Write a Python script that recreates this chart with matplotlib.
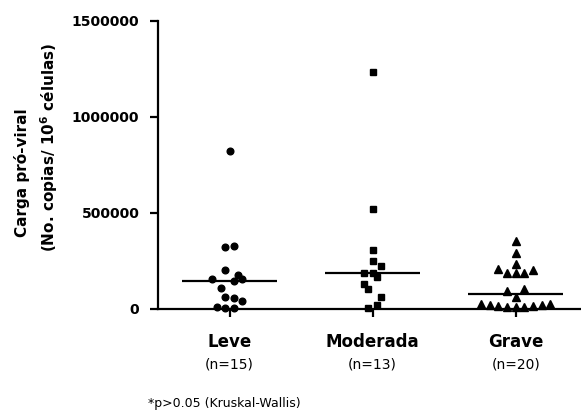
import numpy as np
import matplotlib
matplotlib.use('Agg')
import matplotlib.pyplot as plt
import matplotlib.transforms as mtransforms

plt.rcParams['font.family'] = ['DejaVu Sans']
plt.rcParams['mathtext.fontset'] = 'dejavusans'
plt.rcParams['mathtext.default'] = 'bf'

# data
groups = ['Leve', 'Moderada', 'Grave']
n_labels = ['(n=15)', '(n=13)', '(n=20)']
leve = [824000, 321000, 330000, 203000, 155000, 146000, 179000, 155000,
        108000, 64000, 59000, 42000, 12000, 4000, 4000]
moderada = [1233000, 519000, 307000, 252000, 226000, 186000, 185000, 168000,
            130000, 103000, 61000, 21000, 4000]
grave = [356000, 293000, 236000, 208000, 186000, 186000, 186000, 203000,
         95000, 103000, 61000,
         26000, 21000, 17000, 12000, 9000, 12000, 15000, 19000, 24000]

# beeswarm column offsets (in steps) so points do not overlap
leve_off = [0, -1, 1, -1, -4, 1, 2, 3, -2, -1, 1, 3, -3, -1, 1]
moderada_off = [0, 0, 0, 0, 2, -2, 0, 1, -2, -1, 2, 1, -1]
grave_off = [0, 0, 0, -4, -2, 0, 2, 4, -2, 2, 0, -8, -6, -4, -2, 0, 2, 4, 6, 8]
step = 0.0302

series = [leve, moderada, grave]
offsets = [leve_off, moderada_off, grave_off]
markers = ['o', 's', '^']

fig = plt.figure(figsize=(5.81, 4.12), dpi=100)
ax = fig.add_axes([158 / 581, 1 - 309 / 412, (580 - 158) / 581, (309 - 21) / 412])

for i, (vals, off, m) in enumerate(zip(series, offsets, markers)):
    xs = i + np.array(off) * step
    ax.plot(xs, vals, linestyle='none', marker=m, color='black',
            markersize=4.8 if m != '^' else 5.2, clip_on=False, zorder=3)
    med = np.median(vals)
    ax.plot([i - 0.334, i + 0.334], [med, med], color='black', linewidth=1.6,
            solid_capstyle='butt', zorder=2)

ax.set_xlim(-0.5, 2.45)
ax.set_ylim(0, 1500000)
ax.set_yticks([0, 500000, 1000000, 1500000])
ax.set_yticklabels(['0', '500000', '1000000', '1500000'], fontweight='bold', fontsize=10)
ax.set_xticks(range(3))
ax.set_xticklabels(groups, fontweight='bold', fontsize=12)

for s in ['top', 'right']:
    ax.spines[s].set_visible(False)
for s in ['left', 'bottom']:
    ax.spines[s].set_linewidth(1.6)
ax.tick_params(axis='y', length=5.5, width=1.6, pad=8)
ax.tick_params(axis='x', length=5.5, width=1.6, pad=12)

trans = mtransforms.blended_transform_factory(ax.transData, fig.transFigure)
for i, lab in enumerate(n_labels):
    ax.text(i, 1 - 364 / 412, lab, transform=trans, ha='center', va='center', fontsize=10)

fig.text(22 / 581, 1 - 173 / 412, 'Carga pró-viral', rotation=90, ha='center', va='center',
         fontweight='bold', fontsize=11)
fig.text(49 / 581, 1 - 147 / 412, '(No. copias/ 10$^{6}$ células)', rotation=90,
         ha='center', va='center', fontweight='bold', fontsize=11)

fig.text(148 / 581, 1 - 404 / 412, '*p>0.05 (Kruskal-Wallis)', ha='left', va='center', fontsize=9)

fig.savefig('out.png', dpi=100)
